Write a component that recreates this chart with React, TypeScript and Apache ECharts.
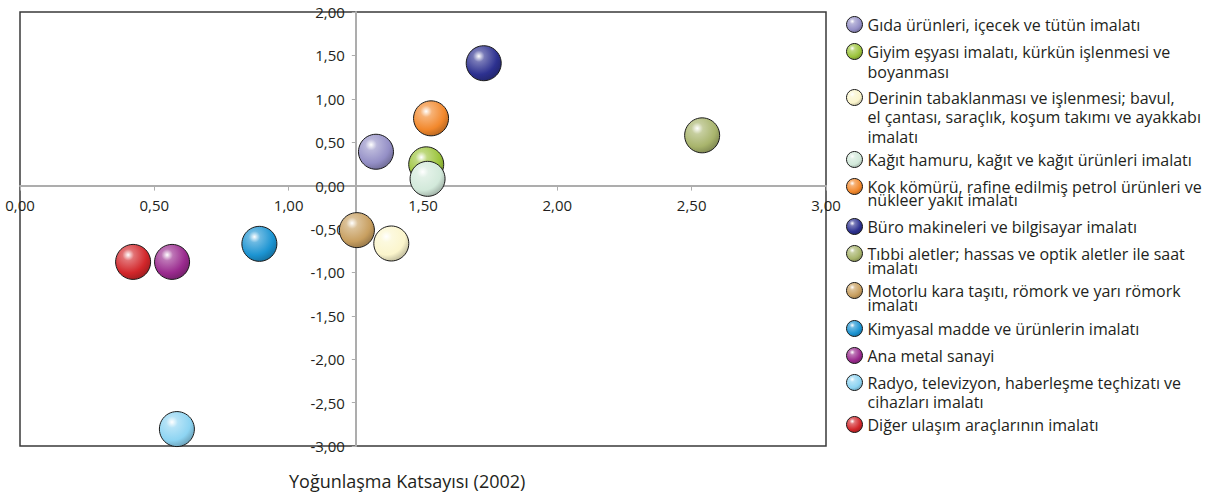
import { useEffect, useRef } from "react";
import * as echarts from "echarts";

// ---- data ----
const categories: string[] = [
  "Gıda ürünleri, içecek ve tütün imalatı",
  "Giyim eşyası imalatı, kürkün işlenmesi ve\nboyanması",
  "Derinin tabaklanması ve işlenmesi; bavul,\nel çantası, saraçlık, koşum takımı ve ayakkabı\nimalatı",
  "Kağıt hamuru, kağıt ve kağıt ürünleri imalatı",
  "Kok kömürü, rafine edilmiş petrol ürünleri ve\nnükleer yakıt imalatı",
  "Büro makineleri ve bilgisayar imalatı",
  "Tıbbi aletler; hassas ve optik aletler ile saat\nimalatı",
  "Motorlu kara taşıtı, römork ve yarı römork\nimalatı",
  "Kimyasal madde ve ürünlerin imalatı",
  "Ana metal sanayi",
  "Radyo, televizyon, haberleşme teçhizatı ve\ncihazları imalatı",
  "Diğer ulaşım araçlarının imalatı",
];
const xValues: number[] = [1.325, 1.512, 1.382, 1.517, 1.53, 1.726, 2.539, 1.254, 0.891, 0.566, 0.584, 0.421];
const yValues: number[] = [0.39, 0.245, -0.667, 0.078, 0.775, 1.41, 0.579, -0.513, -0.671, -0.879, -2.805, -0.879];
const xMin = 0;
const xMax = 3;
const yMin = -3;
const yMax = 2;
const tickInterval = 0.5;
const yAxisCrossesAt = 1.25;
const xAxisCrossesAt = 0;
const xAxisTitle = "Yoğunlaşma Katsayısı (2002)";

// ---- styles ----
const baseColors = [
  "#948fc6", "#9cc43c", "#fbf5cc", "#d2e9da", "#f2882c", "#2d3190",
  "#a8b46c", "#c89f60", "#1c94d2", "#9a2a8e", "#8dd4f2", "#d2262a",
];
const legendFirstLineY = [24, 51, 97, 159, 186, 226, 253, 290, 328, 355, 382, 424];
const legendLineHeight = [19, 20, 19.5, 19, 13.5, 19, 14, 14, 19, 19, 19.5, 19];
const FONT = "'Open Sans', 'Liberation Sans', Arial, sans-serif";
const TEXT = "#231f20";
const GRID = { left: 20, top: 12, width: 806, height: 434 };

function mix(hex: string, target: number, t: number): string {
  const n = parseInt(hex.slice(1), 16);
  const r = (n >> 16) & 255, g = (n >> 8) & 255, b = n & 255;
  const f = (c: number) => Math.round(c + (target - c) * t);
  return "rgb(" + f(r) + "," + f(g) + "," + f(b) + ")";
}

function ball(hex: string) {
  return {
    type: "radial", x: 0.36, y: 0.3, r: 0.75,
    colorStops: [
      { offset: 0, color: "#ffffff" },
      { offset: 0.22, color: mix(hex, 255, 0.35) },
      { offset: 0.7, color: hex },
      { offset: 1, color: mix(hex, 0, 0.25) },
    ],
  };
}

const fmt = (v: number) => (Math.abs(v) < 1e-9 ? 0 : v).toFixed(2).replace(".", ",");

export default function App() {
  const ref = useRef<HTMLDivElement>(null);
  useEffect(() => {
    if (!ref.current) return;
    const chart = echarts.init(ref.current, undefined, { renderer: "svg" });
    const series = categories.map((name, i) => ({
      type: "scatter",
      name,
      symbol: "circle",
      symbolSize: 35,
      data: [[xValues[i], yValues[i]]],
      itemStyle: { color: ball(baseColors[i]), borderColor: "#1a1a1a", borderWidth: 1, opacity: 1 },
      emphasis: { disabled: true },
    }));
    const fs = 16;
    const legends = categories.map((name, i) => {
      const n = name.split("\n").length;
      const L = legendLineHeight[i];
      const extra = n > 1 ? Math.max(0, (n * L) / 2 - 8) : 0;
      return {
        data: [name],
        left: 846,
        top: legendFirstLineY[i] - 8 - extra,
        orient: "vertical",
        padding: 0,
        itemWidth: 16,
        itemHeight: 16,
        itemGap: 0,
        icon: "circle",
        selectedMode: false,
        itemStyle: { borderColor: "#1a1a1a", borderWidth: 1 },
        formatter: (nm: string) => {
          const lines = nm.split("\n");
          const body = lines.map((l) => "{t|" + l + "}").join("\n");
          return lines.length > 1 ? "{g| }\n" + body : body;
        },
        textStyle: {
          fontFamily: FONT,
          fontSize: fs,
          color: TEXT,
          rich: {
            t: { fontFamily: FONT, fontSize: fs, color: TEXT, lineHeight: L },
            g: { fontSize: 1, lineHeight: (n - 1) * L },
          },
        },
      };
    });
    const axisLineStyle = { color: "#adadad", width: 2 };
    const xAxisOffset = -GRID.height * (xAxisCrossesAt - yMin) / (yMax - yMin);
    const yAxisOffset = -GRID.width * (yAxisCrossesAt - xMin) / (xMax - xMin);
    chart.setOption({
      animation: false,
      textStyle: { fontFamily: FONT },
      title: {
        text: xAxisTitle,
        left: 289,
        top: 472,
        padding: 0,
        textStyle: { fontFamily: FONT, fontSize: 18, fontWeight: "normal", color: TEXT },
      },
      legend: legends,
      grid: {
        ...GRID,
        containLabel: false,
        outerBoundsMode: "none",
        show: true, borderColor: "#3a3a3a", borderWidth: 1.5, backgroundColor: "transparent",
      },
      xAxis: {
        type: "value", min: xMin, max: xMax, interval: tickInterval,
        position: "bottom", offset: xAxisOffset,
        axisLine: { show: true, onZero: false, lineStyle: axisLineStyle },
        axisTick: { show: true, length: 5, lineStyle: { color: "#adadad", width: 1 } },
        axisLabel: { formatter: fmt, margin: 12, fontSize: 15, color: TEXT, fontFamily: FONT },
        splitLine: { show: false },
      },
      yAxis: {
        type: "value", min: yMin, max: yMax, interval: tickInterval,
        position: "left", offset: yAxisOffset,
        axisLine: { show: true, onZero: false, lineStyle: axisLineStyle },
        axisTick: { show: true, length: 4, lineStyle: { color: "#adadad", width: 1 } },
        axisLabel: { formatter: fmt, margin: 11, fontSize: 15, color: TEXT, fontFamily: FONT },
        splitLine: { show: false },
      },
      series,
    });
    return () => chart.dispose();
  }, []);
  return (
    <div
      ref={ref}
      style={{ position: "fixed", left: 0, top: 0, width: 1207, height: 495, background: "#fff" }}
    />
  );
}
